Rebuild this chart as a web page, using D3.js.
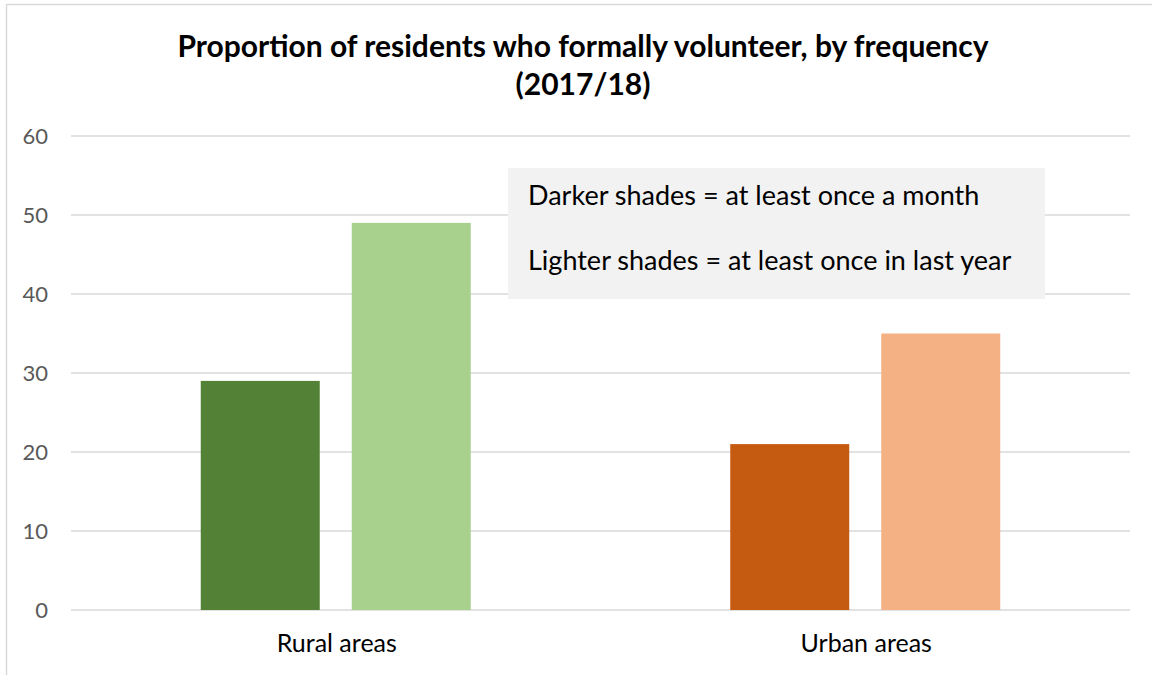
<!DOCTYPE html>
<html>
<head>
<meta charset="utf-8">
<script src="https://cdn.jsdelivr.net/npm/d3@7"></script>
<style>
  html, body { margin: 0; padding: 0; background: #fff; }
  svg { display: block; font-family: Lato, "Open Sans", sans-serif; }
</style>
</head>
<body>
<svg id="chart" width="1152" height="675"></svg>
<script>
// Chart data
const categories = ["Rural areas", "Urban areas"];
const monthlyValues = [29, 21];   // at least once a month (darker)
const yearlyValues = [49, 35];    // at least once in last year (lighter)
const yTicks = [0, 10, 20, 30, 40, 50, 60];
const titleLines = ["Proportion of residents who formally volunteer, by frequency", "(2017/18)"];
const legendLines = ["Darker shades = at least once a month", "Lighter shades = at least once in last year"];
const darkColors = ["#538135", "#c55a11"];
const lightColors = ["#a9d18e", "#f4b183"];

const svg = d3.select("#chart");
const W = 1152, H = 675;
const plot = { left: 71, right: 1130, top: 136, bottom: 610 };

// outer chart frame
svg.append("rect")
  .attr("x", 6.5).attr("y", 4.5)
  .attr("width", W + 10).attr("height", H + 10)
  .attr("fill", "none").attr("stroke", "#d9d9d9").attr("stroke-width", 1.5);

const y = d3.scaleLinear().domain([0, 60]).range([plot.bottom, plot.top]);
const x = d3.scaleBand().domain(categories).range([plot.left, plot.right]);
const groupWidth = 270;
const inner = d3.scaleBand().domain(["month", "year"]).range([0, groupWidth]).paddingInner(0.212);

// gridlines
svg.append("g").selectAll("line").data(yTicks).join("line")
  .attr("x1", plot.left).attr("x2", plot.right)
  .attr("y1", d => y(d)).attr("y2", d => y(d))
  .attr("stroke", "#d9d9d9").attr("stroke-width", 1.5);

// y tick labels
svg.append("g").selectAll("text").data(yTicks).join("text")
  .attr("x", 48).attr("y", d => y(d))
  .attr("dy", "0.36em")
  .attr("text-anchor", "end")
  .attr("font-size", 22)
  .attr("fill", "#595959")
  .text(d => d);

// bars
const groups = svg.append("g").selectAll("g").data(categories).join("g")
  .attr("transform", d => `translate(${x(d) + x.bandwidth() / 2 - groupWidth / 2},0)`);

groups.append("rect")
  .attr("x", inner("month")).attr("width", inner.bandwidth())
  .attr("y", (d, i) => y(monthlyValues[i]))
  .attr("height", (d, i) => y(0) - y(monthlyValues[i]))
  .attr("fill", (d, i) => darkColors[i]);

groups.append("rect")
  .attr("x", inner("year")).attr("width", inner.bandwidth())
  .attr("y", (d, i) => y(yearlyValues[i]))
  .attr("height", (d, i) => y(0) - y(yearlyValues[i]))
  .attr("fill", (d, i) => lightColors[i]);

// category labels
svg.append("g").selectAll("text").data(categories).join("text")
  .attr("x", d => x(d) + x.bandwidth() / 2 + 1)
  .attr("y", 652)
  .attr("text-anchor", "middle")
  .attr("font-size", 25)
  .attr("fill", "#000")
  .text(d => d);

// title
svg.append("g").selectAll("text").data(titleLines).join("text")
  .attr("x", 583)
  .attr("y", (d, i) => 57 + i * 38)
  .attr("text-anchor", "middle")
  .attr("font-size", 30)
  .attr("font-weight", "bold")
  .attr("fill", "#000")
  .text(d => d);

// explanatory note box
svg.append("rect")
  .attr("x", 508).attr("y", 168)
  .attr("width", 537).attr("height", 131)
  .attr("fill", "#f2f2f2");

svg.append("g").selectAll("text").data(legendLines).join("text")
  .attr("x", 528)
  .attr("y", (d, i) => 205 + i * 65)
  .attr("font-size", 27)
  .attr("fill", "#000")
  .text(d => d);
</script>
</body>
</html>
